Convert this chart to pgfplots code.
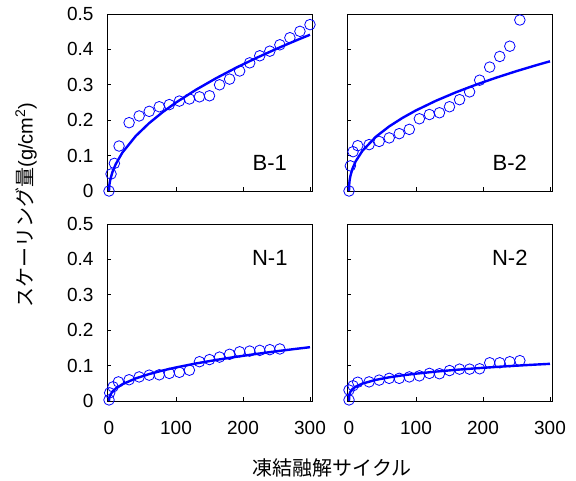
\documentclass[border=0pt]{standalone}
\usepackage{pgfplots}
\pgfplotsset{compat=1.18}
\usepackage{fontspec}
\setmainfont{Liberation Sans}
\newfontfamily\jp{Noto Sans CJK JP}
\pgfplotsset{myax/.style={
  scale only axis, width=205pt, height=177pt,
  xmin=-3, xmax=303, ymin=0, ymax=0.5,
  xtick={0,100,200,300}, ytick={0,0.1,0.2,0.3,0.4,0.5},
  tick align=inside, xtick pos=bottom, ytick pos=left,
  major tick length=4pt,
  axis line style={black, line width=0.8pt},
  tick style={black, line width=0.7pt},
  tick label style={font=\fontsize{19}{19}\selectfont},
  /pgf/number format/assume math mode=true,
  yticklabel style={/pgf/number format/fixed, /pgf/number format/precision=1},
  yticklabel shift=10pt, xticklabel shift=17pt,
  clip=false,
  pts/.style={only marks, mark=o, mark size=5.3pt, blue, mark options={line width=0.8pt}},
  fit/.style={no marks, blue, line width=2.4pt},
}}
\begin{document}
\begin{tikzpicture}
\useasboundingbox (0,0) rectangle (576pt,481pt);
% B-1
\begin{axis}[myax, at={(107pt,290pt)}, anchor=south west, xticklabels={}]
\addplot[fit] coordinates {(0,0) (0.2,0.010) (0.5,0.016) (1,0.023) (2,0.0329) (5,0.0529) (10,0.0758) (20,0.1086) (40,0.1555) (60,0.1918) (80,0.2226) (100,0.2499) (130,0.2862) (160,0.3187) (190,0.3485) (220,0.3759) (250,0.4016) (280,0.4259) (300,0.4414)};
\addplot[pts] coordinates {(0,0) (3,0.048) (8,0.078) (15,0.127) (30,0.193) (45,0.212) (60,0.225) (75,0.238) (90,0.244) (105,0.254) (120,0.260) (135,0.266) (150,0.269) (165,0.300) (180,0.316) (195,0.339) (210,0.362) (225,0.382) (240,0.395) (255,0.413) (270,0.433) (285,0.451) (300,0.470)};
\node[font=\fontsize{22}{22}\selectfont] at (axis cs:240,0.08) {B-1};
\end{axis}
% B-2
\begin{axis}[myax, at={(347pt,290pt)}, anchor=south west, xticklabels={}, yticklabels={}]
\addplot[fit] coordinates {(0,0) (0.2,0.0154) (0.5,0.023) (1,0.031) (2,0.0419) (5,0.0622) (10,0.0840) (20,0.1134) (40,0.1531) (60,0.1825) (80,0.2067) (100,0.2277) (130,0.2551) (160,0.2791) (190,0.3006) (220,0.3203) (250,0.3386) (280,0.3556) (300,0.3664)};
\addplot[pts] coordinates {(0,0) (2,0.071) (6,0.111) (13,0.128) (30,0.131) (45,0.140) (60,0.150) (75,0.162) (90,0.174) (105,0.204) (120,0.216) (135,0.221) (150,0.238) (165,0.258) (180,0.280) (195,0.313) (210,0.350) (225,0.380) (240,0.409) (255,0.483)};
\node[font=\fontsize{22}{22}\selectfont] at (axis cs:240,0.08) {B-2};
\end{axis}
% N-1
\begin{axis}[myax, at={(107pt,80pt)}, anchor=south west]
\addplot[fit] coordinates {(0,0) (0.2,0.0066) (0.5,0.0097) (1,0.0131) (2,0.0176) (5,0.0261) (10,0.0352) (20,0.0474) (40,0.0639) (60,0.0761) (80,0.0861) (100,0.0948) (130,0.1061) (160,0.1160) (190,0.1249) (220,0.1330) (250,0.1405) (280,0.1475) (300,0.1520)};
\addplot[pts] coordinates {(0,0.003) (1,0.023) (6,0.040) (14,0.054) (30,0.060) (45,0.068) (60,0.073) (75,0.074) (90,0.078) (105,0.081) (120,0.087) (135,0.111) (150,0.117) (165,0.124) (180,0.132) (195,0.139) (210,0.141) (225,0.143) (240,0.145) (255,0.147)};
\node[font=\fontsize{22}{22}\selectfont] at (axis cs:240,0.405) {N-1};
\end{axis}
% N-2
\begin{axis}[myax, at={(347pt,80pt)}, anchor=south west, yticklabels={}]
\addplot[fit] coordinates {(0,0) (0.2,0.0135) (0.5,0.0175) (1,0.0213) (2,0.0258) (5,0.0334) (10,0.0405) (20,0.0492) (40,0.0597) (60,0.0669) (80,0.0725) (100,0.0772) (130,0.0831) (160,0.0881) (190,0.0924) (220,0.0963) (250,0.0998) (280,0.1030) (300,0.1050)};
\addplot[pts] coordinates {(0,0.003) (0,0.031) (6,0.043) (13,0.053) (30,0.054) (45,0.059) (60,0.064) (75,0.064) (90,0.068) (105,0.071) (120,0.078) (135,0.077) (150,0.086) (165,0.090) (180,0.090) (195,0.091) (210,0.108) (225,0.108) (240,0.111) (255,0.114)};
\node[font=\fontsize{22}{22}\selectfont] at (axis cs:240,0.405) {N-2};
\end{axis}
\node[rotate=90, font=\fontsize{20}{20}\selectfont] at (26pt,276pt) {{\jp スケーリング量}(g/cm\textsuperscript{2})};
\node[font=\fontsize{20}{20}\selectfont] at (332pt,13pt) {\jp 凍結融解サイクル};
\end{tikzpicture}
\end{document}
